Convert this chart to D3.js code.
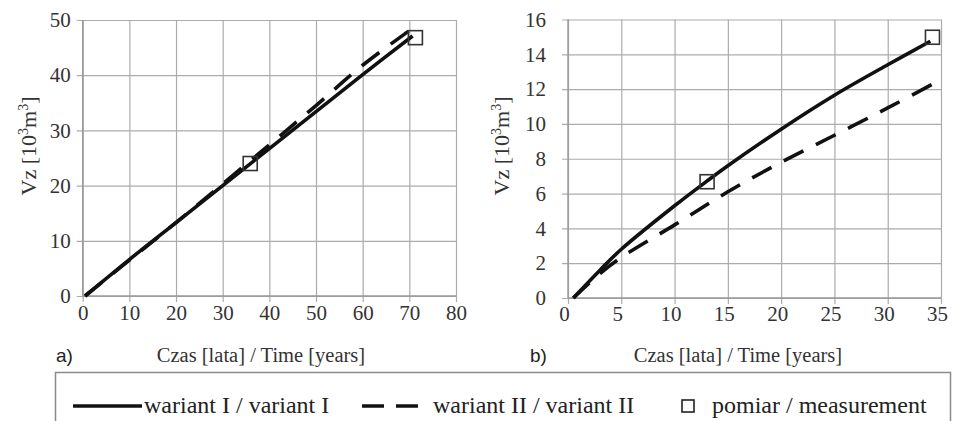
<!DOCTYPE html>
<html><head><meta charset="utf-8">
<script src="https://cdn.jsdelivr.net/npm/d3@7"></script>
<style>
html,body{margin:0;padding:0;background:#fff;}
svg{display:block;}
.tick text{font-family:"Liberation Serif","Times New Roman",Times,serif;font-size:21px;fill:#333;}
.serif{font-family:"Liberation Serif","Times New Roman",Times,serif;}
</style></head>
<body>
<svg id="chart" width="955" height="421"></svg>
<script>
// ---- data ----
// panel a)
const yearsA_I  = [0.5, 10, 20, 30, 40, 50, 60, 70.7];
const vzA_I     = [0, 6.6, 13.3, 20.0, 26.7, 33.4, 40.1, 47.1];
const yearsA_II = [0.5, 10, 20, 30, 40, 50, 60, 72];
const vzA_II    = [0, 6.5, 13.3, 20.3, 27.4, 34.5, 41.8, 49.3];
const measA_years = [35.9, 71.3];
const measA_vz    = [24.0, 46.8];
const ticksA_x = [0,10,20,30,40,50,60,70,80];
const ticksA_y = [0,10,20,30,40,50];
// panel b)
const yearsB_I  = [0.5, 3, 5, 10, 13, 15, 20, 25, 30, 34];
const vzB_I     = [0, 1.6, 2.8, 5.3, 6.7, 7.6, 9.7, 11.65, 13.4, 14.75];
const yearsB_II = [0.5, 3, 5, 10, 15, 20, 25, 30, 34.4];
const vzB_II    = [0, 1.4, 2.33, 4.2, 6.1, 7.8, 9.35, 10.92, 12.35];
const measB_years = [13.05, 34.2];
const measB_vz    = [6.68, 14.98];
const ticksB_x = [0,5,10,15,20,25,30,35];
const ticksB_y = [0,2,4,6,8,10,12,14,16];
// texts
const yTitle = "Vz [10";
const xTitle = "Czas [lata] / Time [years]";
const legendLabels = ["wariant I / variant I", "wariant II / variant II", "pomiar / measurement"];

const svg = d3.select("#chart");
const gridColor = "#ababab";

function panel(cfg){
  const x = d3.scaleLinear().domain(cfg.xDom).range([cfg.x0, cfg.x1]);
  const y = d3.scaleLinear().domain(cfg.yDom).range([cfg.y0, cfg.y1]);
  const g = svg.append("g");
  const w = cfg.x1 - cfg.x0, h = cfg.y0 - cfg.y1;

  const ya = g.append("g").attr("transform", `translate(${cfg.x0},0)`)
    .call(d3.axisLeft(y).tickValues(cfg.yTicks).tickSize(-w).tickSizeOuter(0).tickPadding(cfg.yPad).tickFormat(d3.format("d")));
  ya.select(".domain").remove();
  ya.selectAll(".tick line").attr("x1", -6).attr("stroke", gridColor).attr("stroke-width", 1.2);

  const xa = g.append("g").attr("transform", `translate(0,${cfg.y0})`)
    .call(d3.axisBottom(x).tickValues(cfg.xTicks).tickSize(-h).tickSizeOuter(0).tickPadding(cfg.xPad).tickFormat(d3.format("d")));
  xa.select(".domain").remove();
  xa.selectAll(".tick line").attr("y1", 6).attr("stroke", gridColor).attr("stroke-width", 1.2);
  xa.selectAll(".tick text").attr("dx", cfg.xdx || 0);

  g.append("line").attr("x1", cfg.x0).attr("x2", cfg.x0).attr("y1", cfg.y1).attr("y2", cfg.y0)
    .attr("stroke", "#999").attr("stroke-width", 1.4);
  g.append("line").attr("x1", cfg.x0).attr("x2", cfg.x1).attr("y1", cfg.y0).attr("y2", cfg.y0)
    .attr("stroke", "#999").attr("stroke-width", 1.4);

  const line = d3.line().x(d => x(d[0])).y(d => y(d[1])).curve(d3.curveCatmullRom.alpha(0.5));
  const s1 = cfg.x1Data.map((v,i) => [v, cfg.y1Data[i]]);
  const s2 = cfg.x2Data.map((v,i) => [v, cfg.y2Data[i]]);
  g.append("path").attr("d", line(s2)).attr("fill","none").attr("stroke","#111")
    .attr("stroke-width", 3.6).attr("stroke-dasharray","22,14");
  g.append("path").attr("d", line(s1)).attr("fill","none").attr("stroke","#111")
    .attr("stroke-width", 3.6);

  const sq = 14;
  cfg.mx.forEach((mv,i) => {
    g.append("rect").attr("x", x(mv)-sq/2).attr("y", y(cfg.my[i])-sq/2)
      .attr("width", sq).attr("height", sq).attr("fill","none")
      .attr("stroke","#333").attr("stroke-width",1.6);
  });

  const t = g.append("text").attr("class","serif")
    .attr("transform", `translate(${cfg.ytX},${cfg.ytY}) rotate(-90)`)
    .attr("text-anchor","middle").attr("font-size", 22).attr("fill","#333");
  t.append("tspan").text(yTitle);
  t.append("tspan").attr("font-size", 14).attr("dy", -8).text("3");
  t.append("tspan").attr("font-size", 22).attr("dy", 8).text("m");
  t.append("tspan").attr("font-size", 14).attr("dy", -8).text("3");
  t.append("tspan").attr("font-size", 22).attr("dy", 8).text("]");

  g.append("text").attr("x", cfg.letterX).attr("y", 362).attr("font-family","Liberation Sans, Arial, sans-serif")
    .attr("font-size", 19).attr("fill","#222").text(cfg.letter);
  g.append("text").attr("class","serif").attr("x", cfg.xtX).attr("y", 362).attr("text-anchor","middle")
    .attr("font-size", 20.5).attr("fill","#333").text(xTitle);
}

panel({xDom:[0,80], yDom:[0,50], x0:82.7, x1:456, y0:296, y1:20, xTicks:ticksA_x, yTicks:ticksA_y,
  yPad:12, xPad:9, x1Data:yearsA_I, y1Data:vzA_I, x2Data:yearsA_II, y2Data:vzA_II,
  mx:measA_years, my:measA_vz, ytX:36, ytY:146, letter:"a)", letterX:56, xtX:261});
panel({xDom:[0,35], yDom:[0,16], x0:568, x1:941, y0:298, y1:19.5, xTicks:ticksB_x, yTicks:ticksB_y,
  yPad:22, xPad:8, xdx:-4, x1Data:yearsB_I, y1Data:vzB_I, x2Data:yearsB_II, y2Data:vzB_II,
  mx:measB_years, my:measB_vz, ytX:509, ytY:146, letter:"b)", letterX:530, xtX:738});

// legend
const lg = svg.append("g");
lg.append("rect").attr("x", 55.5).attr("y", 372.5).attr("width", 895).attr("height", 70)
  .attr("fill","none").attr("stroke","#8a8a8a").attr("stroke-width",1.5);
const ly = 406;
lg.append("line").attr("x1",73).attr("x2",142).attr("y1",ly).attr("y2",ly).attr("stroke","#111").attr("stroke-width",3.6);
lg.append("line").attr("x1",362).attr("x2",426).attr("y1",ly).attr("y2",ly).attr("stroke","#111").attr("stroke-width",3.6)
  .attr("stroke-dasharray","22,12");
lg.append("rect").attr("x",682).attr("y",ly-6).attr("width",12).attr("height",12).attr("fill","none")
  .attr("stroke","#222").attr("stroke-width",1.6);
const lx = [144, 433, 712];
legendLabels.forEach((s,i) => {
  lg.append("text").attr("class","serif").attr("x", lx[i]).attr("y", ly+7)
    .attr("font-size", 24).attr("fill","#222").text(s);
});
</script>
</body></html>
